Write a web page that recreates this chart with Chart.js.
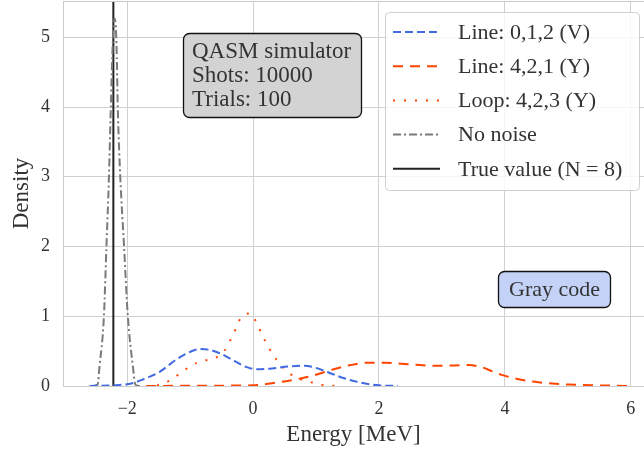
<!DOCTYPE html>
<html>
<head>
<meta charset="utf-8">
<script src="https://cdn.jsdelivr.net/npm/chart.js@4.4.1/dist/chart.umd.min.js"></script>
<style>
    html, body { margin: 0; padding: 0; background: #fff; }
</style>
</head>
<body>
<canvas id="kde-chart" width="644" height="453"></canvas>
<script>
// axis setup
const xMin = -3.02;
const xMax = 6.21;
const yMax = 5.52;
const xTicks = [-2, 0, 2, 4, 6];
const yTicks = [0, 1, 2, 3, 4, 5];

const seriesLabels = [
    "Line: 0,1,2 (V)",
    "Line: 4,2,1 (Y)",
    "Loop: 4,2,3 (Y)",
    "No noise",
    "True value (N = 8)",
];

// density curves
const lineV_x = [-2.6, -2.2, -1.92, -1.76, -1.49, -1.22, -1.0, -0.85, -0.7, -0.53, -0.3, -0.1, 0.06, 0.3, 0.55, 0.8, 1.0, 1.18, 1.45, 1.76, 2.0, 2.3];
const lineV_y = [0, 0.01, 0.04, 0.09, 0.2, 0.38, 0.49, 0.53, 0.52, 0.47, 0.36, 0.27, 0.24, 0.25, 0.28, 0.29, 0.26, 0.2, 0.11, 0.04, 0.01, 0];

const lineY_x = [-1.7, -1.0, -0.5, 0.0, 0.3, 0.59, 0.91, 1.28, 1.55, 1.85, 2.1, 2.35, 2.65, 2.9, 3.2, 3.42, 3.63, 3.8, 3.95, 4.2, 4.48, 4.75, 5.02, 5.55, 6.0];
const lineY_y = [0, 0.003, 0.005, 0.01, 0.04, 0.08, 0.14, 0.24, 0.3, 0.335, 0.335, 0.32, 0.3, 0.29, 0.295, 0.3, 0.27, 0.21, 0.16, 0.1, 0.06, 0.035, 0.02, 0.008, 0];

const loop_x = [-1.7, -1.46, -1.29, -1.13, -0.97, -0.8, -0.61, -0.46, -0.36, -0.28, -0.2, -0.05, 0.06, 0.14, 0.23, 0.33, 0.44, 0.58, 0.75, 0.94, 1.13, 1.35];
const loop_y = [0, 0.02, 0.1, 0.2, 0.3, 0.36, 0.4, 0.5, 0.66, 0.81, 0.97, 1.04, 0.9, 0.74, 0.58, 0.43, 0.3, 0.18, 0.1, 0.05, 0.01, 0];

const noNoise_x = [-2.55, -2.47, -2.44, -2.37, -2.33, -2.29, -2.26, -2.23, -2.2, -2.17, -2.15, -2.11, -2.05, -1.99, -1.91, -1.87, -1.8];
const noNoise_y = [0, 0.02, 0.28, 1.0, 2.0, 3.0, 4.0, 4.9, 5.27, 4.9, 4.0, 3.0, 2.0, 1.0, 0.28, 0.02, 0];

const trueValue = -2.22;

const toPoints = (xs, ys) => xs.map((x, i) => ({ x, y: ys[i] }));

const FONT = "'Liberation Serif', 'DejaVu Serif', serif";
const TEXT = "#333333";

// boxes + legend + top frame
const overlayPlugin = {
    id: "overlay",
    afterDraw: (chart) => {
        const { ctx, chartArea } = chart;
        ctx.save();

        // top frame line
        ctx.strokeStyle = "#cccccc";
        ctx.lineWidth = 1;
        ctx.beginPath();
        ctx.moveTo(chartArea.left, chartArea.top + 0.5);
        ctx.lineTo(chartArea.right, chartArea.top + 0.5);
        ctx.stroke();

        // info box
        ctx.beginPath();
        ctx.roundRect(183.5, 33.5, 178, 84, 6);
        ctx.fillStyle = "#d3d3d3";
        ctx.fill();
        ctx.strokeStyle = "#111";
        ctx.lineWidth = 1.3;
        ctx.stroke();
        ctx.fillStyle = TEXT;
        ctx.font = "23px " + FONT;
        ctx.textAlign = "left";
        ctx.textBaseline = "middle";
        ["QASM simulator", "Shots: 10000", "Trials: 100"].forEach((t, i) => {
            ctx.fillText(t, 192, 52 + i * 24);
        });

        // Gray code box
        ctx.beginPath();
        ctx.roundRect(498.5, 271.5, 112, 36, 6);
        ctx.fillStyle = "#c3d2f6";
        ctx.fill();
        ctx.strokeStyle = "#111";
        ctx.stroke();
        ctx.fillStyle = TEXT;
        ctx.font = "22px " + FONT;
        ctx.textAlign = "center";
        ctx.fillText("Gray code", 554.5, 290);

        // legend
        ctx.beginPath();
        ctx.roundRect(385.5, 12.5, 254, 178, 4);
        ctx.fillStyle = "rgba(255,255,255,0.8)";
        ctx.fill();
        ctx.strokeStyle = "#d0d0d0";
        ctx.lineWidth = 1;
        ctx.stroke();

        chart.data.datasets.forEach((ds, i) => {
            const y = 32 + i * 34.2;
            ctx.beginPath();
            ctx.setLineDash(ds.borderDash || []);
            ctx.strokeStyle = ds.borderColor;
            ctx.lineWidth = ds.borderWidth;
            ctx.lineCap = "butt";
            ctx.moveTo(393, y);
            ctx.lineTo(440, y);
            ctx.stroke();
            ctx.setLineDash([]);
            ctx.fillStyle = TEXT;
            ctx.font = "22px " + FONT;
            ctx.textAlign = "left";
            ctx.fillText(ds.label, 458, y + 1);
        });

        ctx.restore();
    },
};

const ctx = document.getElementById("kde-chart").getContext("2d");

new Chart(ctx, {
    type: "line",
    data: {
        datasets: [
            {
                label: seriesLabels[0],
                data: toPoints(lineV_x, lineV_y),
                borderColor: "#4169e1",
                borderWidth: 2,
                borderDash: [8, 4],
            },
            {
                label: seriesLabels[1],
                data: toPoints(lineY_x, lineY_y),
                borderColor: "#ff4500",
                borderWidth: 2,
                borderDash: [10, 7],
            },
            {
                label: seriesLabels[2],
                data: toPoints(loop_x, loop_y),
                borderColor: "#ff4500",
                borderWidth: 2,
                borderDash: [2, 9],
            },
            {
                label: seriesLabels[3],
                data: toPoints(noNoise_x, noNoise_y),
                borderColor: "#7a7a7a",
                borderWidth: 2,
                borderDash: [8, 3, 2, 3],
            },
            {
                label: seriesLabels[4],
                data: [{ x: trueValue, y: 0 }, { x: trueValue, y: yMax }],
                borderColor: "#222222",
                borderWidth: 2,
            },
        ],
    },
    options: {
        responsive: false,
        animation: false,
        elements: {
            point: { radius: 0 },
            line: { cubicInterpolationMode: "monotone", fill: false },
        },
        layout: { padding: { top: 1, right: 0, left: 0, bottom: 0 } },
        plugins: {
            legend: { display: false },
            tooltip: { enabled: false },
        },
        scales: {
            x: {
                type: "linear",
                min: xMin,
                max: xMax,
                afterBuildTicks: (scale) => {
                    scale.ticks = xTicks.map((v) => ({ value: v }));
                },
                afterFit: (scale) => {
                    scale.height = 67;
                    scale.paddingLeft = 0;
                    scale.paddingRight = 0;
                },
                grid: { color: "#d0d0d0", drawTicks: false },
                border: { color: "#cccccc" },
                ticks: {
                    padding: 12,
                    color: TEXT,
                    font: { family: FONT, size: 18 },
                    callback: (v) => String(v).replace("-", "\u2212"),
                },
                title: {
                    display: true,
                    text: "Energy [MeV]",
                    color: TEXT,
                    font: { family: FONT, size: 23 },
                    padding: { top: 0, bottom: 4 },
                },
            },
            y: {
                min: 0,
                max: yMax,
                afterBuildTicks: (scale) => {
                    scale.ticks = yTicks.map((v) => ({ value: v }));
                },
                afterFit: (scale) => {
                    scale.width = 63;
                    scale.paddingTop = 0;
                    scale.paddingBottom = 0;
                },
                grid: { color: "#d0d0d0", drawTicks: false },
                border: { color: "#cccccc" },
                ticks: {
                    padding: 13,
                    color: TEXT,
                    font: { family: FONT, size: 18 },
                },
                title: {
                    display: true,
                    text: "Density",
                    color: TEXT,
                    font: { family: FONT, size: 23 },
                    padding: { top: 8, bottom: 0 },
                },
            },
        },
    },
    plugins: [overlayPlugin],
});
</script>
</body>
</html>
